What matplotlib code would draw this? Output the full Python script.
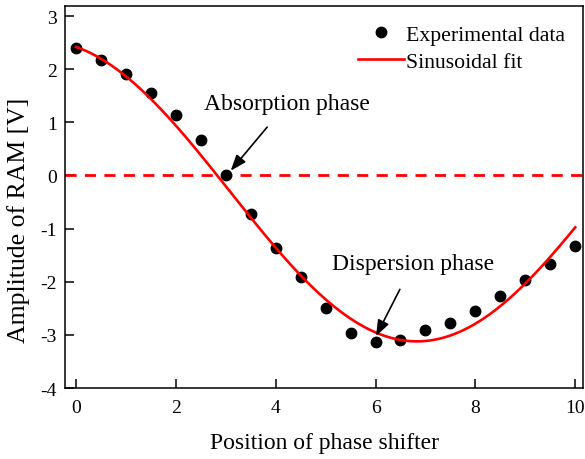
import numpy as np
import matplotlib
matplotlib.use("Agg")
import matplotlib.pyplot as plt

plt.rcParams['font.family'] = ['Liberation Serif', 'DejaVu Serif']
plt.rcParams['axes.unicode_minus'] = False

# measured points
position = [0, 0.5, 1, 1.5, 2, 2.5, 3, 3.5, 4, 4.5, 5,
            5.5, 6, 6.5, 7, 7.5, 8, 8.5, 9, 9.5, 10]
amplitude = [2.40, 2.18, 1.90, 1.55, 1.13, 0.67, 0.00, -0.72, -1.37, -1.90, -2.50,
             -2.97, -3.14, -3.09, -2.91, -2.78, -2.54, -2.26, -1.96, -1.66, -1.33]

# sinusoidal fit parameters (y = y0 - A*cos(pi*(x-xc)/w))
fit_y0 = -0.295
fit_A = 2.825
fit_xc = 6.83
fit_w = 7.5

xfit = np.linspace(0, 10, 300)
yfit = fit_y0 - fit_A * np.cos(np.pi * (xfit - fit_xc) / fit_w)

fig = plt.figure(figsize=(5.85, 4.6), dpi=100)
ax = fig.add_axes([0.111, 0.154, 0.886, 0.831])

ax.axhline(0, color='red', lw=2, ls=(0, (4, 3)))
ax.plot(position, amplitude, 'o', color='black', ms=7.5, label='Experimental data')
ax.plot(xfit, yfit, color='red', lw=1.9, label='Sinusoidal fit')

ax.annotate('Absorption phase', xy=(3.1, 0.09), xytext=(4.23, 1.36),
            ha='center', va='center', fontsize=17,
            arrowprops=dict(arrowstyle='-|>,head_width=0.3,head_length=0.8', color='black',
                            lw=1.2, mutation_scale=12, shrinkA=10, shrinkB=0))
ax.annotate('Dispersion phase', xy=(6.01, -3.02), xytext=(6.75, -1.66),
            ha='center', va='center', fontsize=17,
            arrowprops=dict(arrowstyle='-|>,head_width=0.3,head_length=0.8', color='black',
                            lw=1.2, mutation_scale=12, shrinkA=10, shrinkB=0))

ax.set_xlim(-0.22, 10.16)
ax.set_ylim(-4, 3.19)
ax.set_xticks([0, 2, 4, 6, 8, 10])
ax.set_yticks([-4, -3, -2, -1, 0, 1, 2, 3])
ax.tick_params(direction='in', length=6.5, width=1.1, labelsize=14)
ax.tick_params(axis='x', pad=8)
ax.tick_params(axis='y', pad=6)
for s in ax.spines.values():
    s.set_linewidth(1.1)

ax.set_xlabel('Position of phase shifter', fontsize=17, labelpad=11)
ax.set_ylabel('Amplitude of RAM [V]', fontsize=18.5)
ax.yaxis.set_label_coords(-0.068, 0.442)

ax.legend(loc='upper right', frameon=False, fontsize=15.7, handlelength=2.1,
          handletextpad=0.1, borderaxespad=0.45, labelspacing=0.3)

fig.savefig('out.png', dpi=100)
